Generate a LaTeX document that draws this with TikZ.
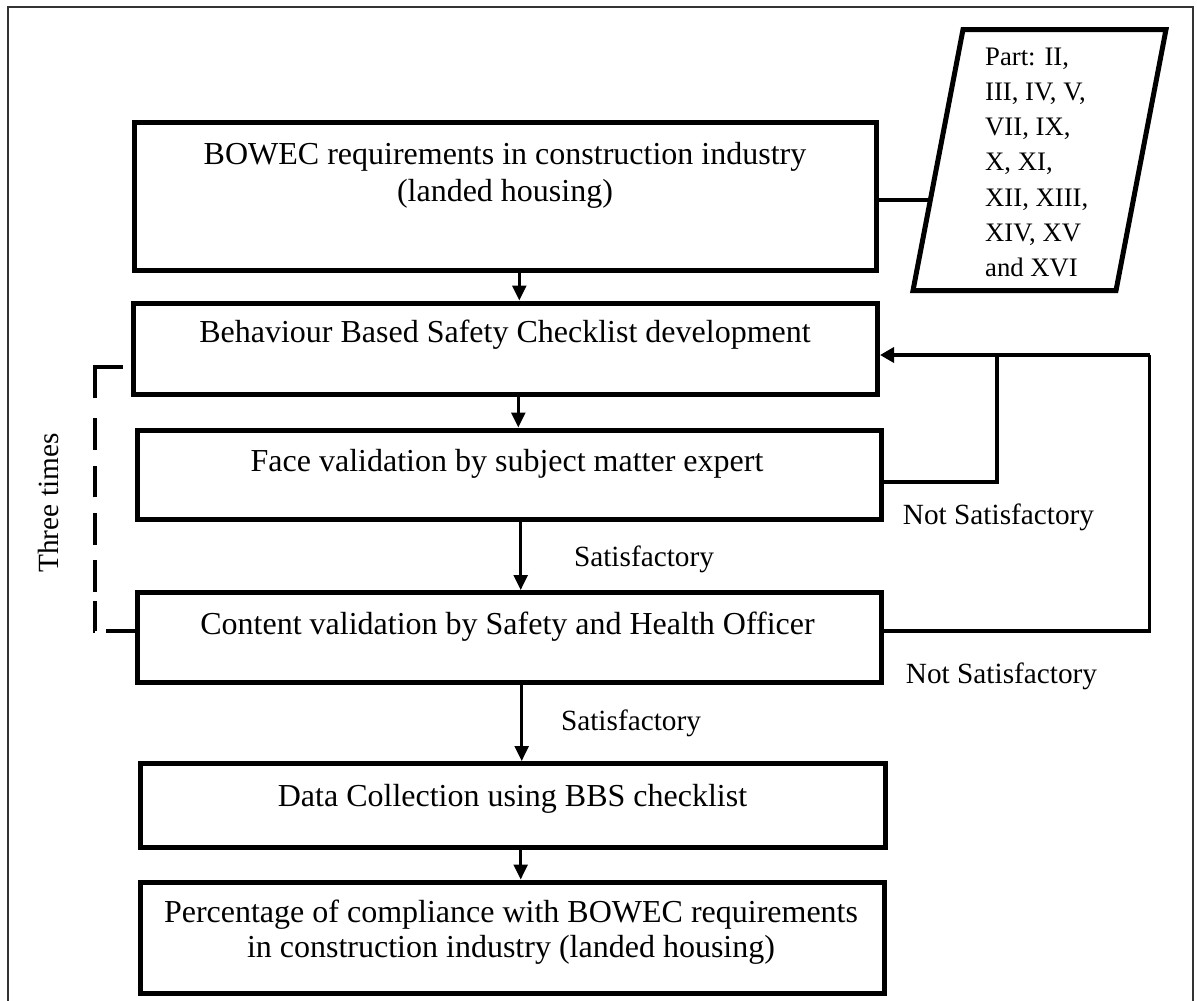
\documentclass[tikz,border=0pt]{standalone}
\usepackage{fontspec}
\setmainfont{Liberation Serif}
\usetikzlibrary{arrows.meta,calc}

\begin{document}
\begin{tikzpicture}[x=1pt,y=-1pt,
  box/.style={draw, line width=5pt, inner sep=0pt},
  main/.style={font=\fontsize{32}{36}\selectfont, anchor=base, inner sep=0pt},
  lbl/.style={font=\fontsize{29.3}{34}\selectfont, anchor=base, inner sep=0pt},
  part/.style={font=\fontsize{26.7}{32}\selectfont, anchor=base west, inner sep=0pt},
  arr/.style={line width=2.5pt, -{Triangle[width=14pt,length=15pt]}},
  fbline/.style={line width=3.5pt, line join=miter},
  tip/.style={-{Triangle[width=15pt,length=14pt]}},
  dashline/.style={line width=4pt,
    dash pattern=on 28.5pt off 11pt on 30.3pt off 9pt on 31.7pt off 15pt on 31.7pt off 16pt
                 on 31.3pt off 16pt on 31.7pt off 20pt on 59.3pt off 7.5pt}
]
\useasboundingbox (0,0) rectangle (1197,1001);

% page frame, open at the bottom
\draw[line width=1.7pt, black!80] (8,1010) -- (8,7) -- (1193,7) -- (1193,1010);

% process boxes
\node[box, minimum width=741.5pt, minimum height=148pt] (b1) at (505.25,196.5) {};
\node[box, minimum width=744.5pt, minimum height=91.5pt] (b2) at (505.25,348.75) {};
\node[box, minimum width=744pt,   minimum height=89.5pt] (b3) at (509,474.75) {};
\node[box, minimum width=744pt,   minimum height=89.5pt] (b4) at (509,637.25) {};
\node[box, minimum width=744.5pt, minimum height=84pt]   (b5) at (512.75,805.5) {};
\node[box, minimum width=744pt,   minimum height=111pt]  (b6) at (512.5,937.5) {};

% box texts
\node[main] (t1a) at (505,164) {BOWEC requirements in construction industry};
\node[main] (t1b) at (505,201) {(landed housing)};
\node[main] (t2)  at (505,342) {Behaviour Based Safety Checklist development};
\node[main] (t3)  at (507,471) {Face validation by subject matter expert};
\node[main] (t4)  at (507.5,634) {Content validation by Safety and Health Officer};
\node[main] (t5)  at (512.5,806) {Data Collection using BBS checklist};
\node[main] (t6a) at (511,922.5) {Percentage of compliance with BOWEC requirements};
\node[main] (t6b) at (511,957.5) {in construction industry (landed housing)};

% parts list (parallelogram)
\coordinate (ptl) at (963,29.5);
\coordinate (ptr) at (1166,29.5);
\coordinate (pbr) at (1116,290.5);
\coordinate (pbl) at (913,290.5);
\draw[line width=5pt] (ptl) -- (ptr) -- (pbr) -- (pbl) -- cycle;
\foreach \txt [count=\i from 0] in {{Part: II,},{III, IV, V,},{VII, IX,},{X, XI,},{XII, XIII,},{XIV, XV},{and XVI}}
  \node[part] (p\i) at (985,65+35.3*\i) {\txt};
\coordinate (pj) at ($(pbl)!0.3467!(ptl)$);
\draw[line width=4pt] (b1.east |- pj) -- (pj);

% main flow arrows
\coordinate (a1) at (519.3,0);
\coordinate (a2) at (518.3,0);
\coordinate (a3) at (520.7,0);
\coordinate (a4) at (521.7,0);
\coordinate (a5) at (520.7,0);
\draw[arr] (b1.south -| a1) -- (b2.north -| a1);
\draw[arr] (b2.south -| a2) -- (b3.north -| a2);
\draw[arr] (b3.south -| a3) -- (b4.north -| a3);
\draw[arr] (b4.south -| a4) -- (b5.north -| a4);
\draw[arr] (b5.south -| a5) -- (b6.north -| a5);

% feedback loops
\coordinate (j1) at (997,355);
\coordinate (j2) at (1149.5,355);
\coordinate (y3) at (0,482);
\coordinate (y4) at (0,631);
\draw[fbline] (b3.east |- y3) -| (j1);
\draw[fbline] (b4.east |- y4) -| (j2);
\draw[fbline, tip] (j2) -- (b2.east |- j2);

% repetition bracket
\coordinate (dx) at (95,0);
\coordinate (dyt) at (0,367);
\coordinate (dyb) at (0,631);
\draw[dashline] (b4.west |- dyb) -- (dx |- dyb) -- (dx |- dyt) -- (b2.west |- dyt);

% labels
\node[lbl] (s1) at (644,566) {Satisfactory};
\node[lbl] (s2) at (631,730) {Satisfactory};
\node[lbl] (n1) at (998.5,524) {Not Satisfactory};
\node[lbl] (n2) at (1001.5,683) {Not Satisfactory};
\node[lbl, rotate=90] (three) at (58,503) {Three times};
\end{tikzpicture}
\end{document}
